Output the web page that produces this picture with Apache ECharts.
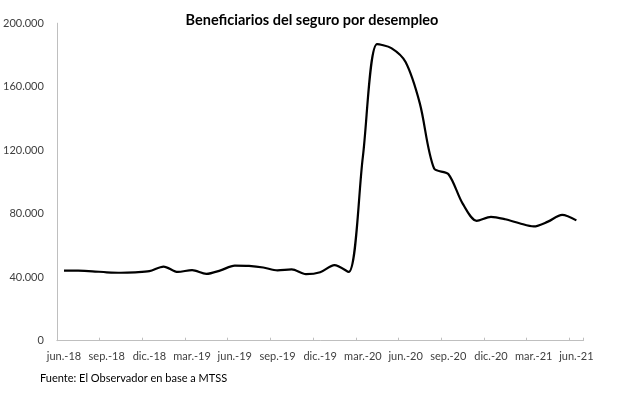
<!DOCTYPE html>
<html>
<head>
<meta charset="utf-8">
<script src="https://cdn.jsdelivr.net/npm/echarts@6/dist/echarts.min.js"></script>
<style>
html,body{margin:0;padding:0;background:#fff;}
#chart{width:617px;height:394px;}
</style>
</head>
<body>
<div id="chart"></div>
<script>
const months = ['jun.-18','jul.-18','ago.-18','sep.-18','oct.-18','nov.-18','dic.-18',
  'ene.-19','feb.-19','mar.-19','abr.-19','may.-19','jun.-19','jul.-19','ago.-19','sep.-19','oct.-19','nov.-19','dic.-19',
  'ene.-20','feb.-20','mar.-20','abr.-20','may.-20','jun.-20','jul.-20','ago.-20','sep.-20','oct.-20','nov.-20','dic.-20',
  'ene.-21','feb.-21','mar.-21','abr.-21','may.-21','jun.-21'];
const beneficiarios = [44200, 44100, 43700, 43100, 42800, 43100, 43800,
  46700, 43300, 44500, 42100, 44300, 47300, 47100, 46100, 44300, 44900, 41900, 43100,
  47600, 43300, 116000, 186800, 184300, 175500, 149500, 108500, 105000, 86500, 75500, 78000,
  76500, 74000, 72000, 75000, 79300, 75800];
const yTicks = [0, 40000, 80000, 120000, 160000, 200000];
const titleText = 'Beneficiarios del seguro por desempleo';
const sourceText = 'Fuente: El Observador en base a MTSS';

const fmt = v => v === 0 ? '0' : String(v).replace(/\B(?=(\d{3})+(?!\d))/g, '.');

const chart = echarts.init(document.getElementById('chart'), null, {renderer:'canvas'});
chart.setOption({
  backgroundColor: '#ffffff',
  animation: false,
  textStyle: {fontFamily: 'Lato'},
  title: {
    text: titleText,
    left: 307, top: 8, textAlign: 'center',
    textStyle: {fontFamily: 'Lato', fontSize: 14.5, fontWeight: 'bold', color: '#000'}
  },
  graphic: [{
    type: 'text', left: 40, top: 373,
    style: {text: sourceText, fontFamily: 'Lato', fontSize: 11, fill: '#000'}
  }],
  grid: {left: 50, right: 33.5, top: 23.2, bottom: 53.3, containLabel: false},
  xAxis: {
    type: 'category',
    data: months,
    boundaryGap: true,
    axisLine: {show: true, lineStyle: {color: '#bfbfbf', width: 1}},
    axisTick: {show: true, inside: true, length: 3, interval: 2, lineStyle: {color: '#bfbfbf'}},
    axisLabel: {interval: 2, margin: 10, fontSize: 11, color: '#404040', fontFamily: 'Lato'},
    splitLine: {show: false}
  },
  yAxis: {
    type: 'value',
    min: 0, max: 200000, interval: 40000,
    axisLine: {show: true, lineStyle: {color: '#bfbfbf', width: 1}},
    axisTick: {show: false},
    splitLine: {show: false},
    axisLabel: {
      margin: 13, fontSize: 11, color: '#404040', fontFamily: 'Lato',
      formatter: v => yTicks.includes(v) ? fmt(v) : ''
    }
  },
  series: [{
    type: 'line',
    data: beneficiarios,
    smooth: 0.3,
    symbol: 'none',
    lineStyle: {color: '#000000', width: 2.2}
  }]
});
</script>
</body>
</html>
